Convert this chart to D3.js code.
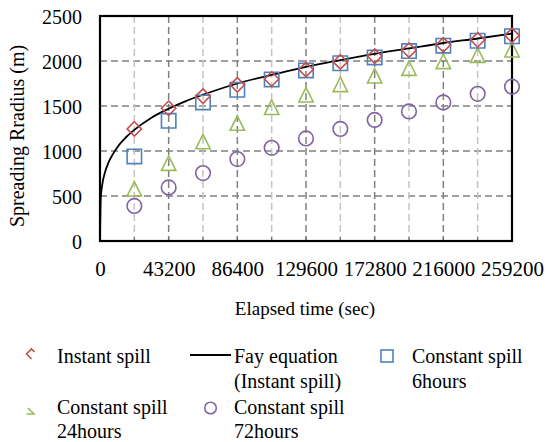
<!DOCTYPE html>
<html>
<head>
<meta charset="utf-8">
<script src="https://cdn.jsdelivr.net/npm/d3@7"></script>
<style>
  html, body { margin: 0; padding: 0; background: #fff; }
  svg, svg text { font-family: "Liberation Serif", "Times New Roman", serif; }
  svg { display: block; }
</style>
</head>
<body>
<svg id="chart" width="547" height="442"></svg>
<script>
// Sampling times (s) of the measured spreading radii
const timeSec = [21600, 43200, 64800, 86400, 108000, 129600, 151200, 172800, 194400, 216000, 237600, 259200];

// Spreading radius (m) for each spill scenario
const instantSpill = [1245, 1475, 1610, 1735, 1800, 1905, 1990, 2055, 2120, 2180, 2235, 2285];
const constant6h   = [940, 1335, 1540, 1680, 1795, 1895, 1975, 2040, 2110, 2170, 2225, 2275];
const constant24h  = [580, 865, 1105, 1310, 1485, 1625, 1740, 1835, 1920, 1995, 2065, 2125];
const constant72h  = [390, 595, 755, 910, 1035, 1140, 1245, 1345, 1440, 1540, 1635, 1715];

// Fay equation curve (instant spill)
const fayTime   = [0, 500, 1500, 3000, 5400, 8100, 10800, 16200, 21600, 32400, 43200, 54000, 64800, 86400, 108000, 129600, 151200, 172800, 194400, 216000, 237600, 259200];
const fayRadius = [0, 480, 635, 755, 875, 965, 1040, 1150, 1235, 1370, 1470, 1555, 1625, 1750, 1845, 1935, 2010, 2080, 2140, 2200, 2250, 2305];

// Axis ticks
const xTickLabels = [0, 43200, 86400, 129600, 172800, 216000, 259200];
const xMinorTicks = [21600, 64800, 108000, 151200, 194400, 237600];
const yTickLabels = [0, 500, 1000, 1500, 2000, 2500];

const colors = { instant: "#C0504D", c6: "#4F81BD", c24: "#9BBB59", c72: "#8064A2" };
const serif = "Liberation Serif, Times New Roman, serif";

const svg = d3.select("#chart");
const plot = { left: 100, right: 512, top: 16, bottom: 241 };

const x = d3.scaleLinear().domain([0, 259200]).range([plot.left, plot.right]);
const y = d3.scaleLinear().domain([0, 2500]).range([plot.bottom, plot.top]);

// Grid lines
const grid = svg.append("g");
grid.selectAll("line.hg").data(yTickLabels.filter(v => v > 0 && v < 2500)).join("line")
  .attr("x1", plot.left).attr("x2", plot.right)
  .attr("y1", d => y(d)).attr("y2", d => y(d))
  .attr("stroke", "#808080").attr("stroke-width", 1.5).attr("stroke-dasharray", "7,4");
grid.selectAll("line.vmin").data(xMinorTicks).join("line")
  .attr("x1", d => x(d)).attr("x2", d => x(d))
  .attr("y1", plot.top).attr("y2", plot.bottom)
  .attr("stroke", "#c4c4c4").attr("stroke-width", 1.5).attr("stroke-dasharray", "7,4");
grid.selectAll("line.vmaj").data(xTickLabels.filter(v => v > 0 && v < 259200)).join("line")
  .attr("x1", d => x(d)).attr("x2", d => x(d))
  .attr("y1", plot.top).attr("y2", plot.bottom)
  .attr("stroke", "#808080").attr("stroke-width", 1.5).attr("stroke-dasharray", "7,4");

// Bottom axis labels and inner ticks
const xAxis = d3.axisBottom(x).tickValues(xTickLabels).tickSize(0).tickPadding(0).tickFormat(d3.format("d"));
const gx = svg.append("g").attr("transform", `translate(0,${plot.bottom})`).call(xAxis)
  .attr("font-family", serif).attr("font-size", 21);
gx.select(".domain").remove();
gx.selectAll("text").attr("fill", "#000").attr("dy", 0).attr("y", 35);
svg.append("g").selectAll("line").data(xMinorTicks.concat(xTickLabels)).join("line")
  .attr("x1", d => x(d)).attr("x2", d => x(d))
  .attr("y1", plot.bottom).attr("y2", plot.bottom - 4)
  .attr("stroke", "#707070").attr("stroke-width", 1.2);

// Left axis labels
const yAxis = d3.axisLeft(y).tickValues(yTickLabels).tickSize(0).tickPadding(18).tickFormat(d3.format("d"));
const gy = svg.append("g").attr("transform", `translate(${plot.left},0)`).call(yAxis)
  .attr("font-family", serif).attr("font-size", 20);
gy.select(".domain").remove();
gy.selectAll("text").attr("fill", "#000").attr("dy", "0.35em");

// Plot frame
svg.append("rect")
  .attr("x", plot.left).attr("y", plot.top)
  .attr("width", plot.right - plot.left).attr("height", plot.bottom - plot.top)
  .attr("fill", "none").attr("stroke", "#000").attr("stroke-width", 2.2);

// Fay equation curve
const fayData = fayTime.map((t, i) => [t, fayRadius[i]]);
svg.append("path")
  .datum(fayData)
  .attr("fill", "none").attr("stroke", "#000").attr("stroke-width", 1.8)
  .attr("d", d3.line().x(d => x(d[0])).y(d => y(d[1])).curve(d3.curveMonotoneX));

// Marker shapes
function diamondPath(s) { return `M0,${-s}L${s},0L0,${s}L${-s},0Z`; }
function squarePath(s) { return `M${-s},${-s}H${s}V${s}H${-s}Z`; }
function trianglePath(s) { return `M0,${-s}L${s},${s}L${-s},${s}Z`; }

function drawMarkers(values, color, kind) {
  const g = svg.append("g");
  const pts = timeSec.map((t, i) => [t, values[i]]);
  if (kind === "circle") {
    g.selectAll("circle").data(pts).join("circle")
      .attr("cx", d => x(d[0])).attr("cy", d => y(d[1])).attr("r", 7.3)
      .attr("fill", "none").attr("stroke", color).attr("stroke-width", 1.6);
  } else {
    const p = kind === "square" ? squarePath(7.2) : kind === "diamond" ? diamondPath(7.2) : trianglePath(7.2);
    g.selectAll("path").data(pts).join("path")
      .attr("transform", d => `translate(${x(d[0])},${y(d[1])})`)
      .attr("d", p).attr("fill", "none").attr("stroke", color).attr("stroke-width", 1.6);
  }
}
drawMarkers(constant72h, colors.c72, "circle");
drawMarkers(constant24h, colors.c24, "triangle");
drawMarkers(constant6h, colors.c6, "square");
drawMarkers(instantSpill, colors.instant, "diamond");

// Axis titles
svg.append("text").attr("x", 305).attr("y", 315).attr("text-anchor", "middle")
  .attr("font-family", serif).attr("font-size", 19).text("Elapsed time (sec)");
svg.append("text").attr("transform", "translate(24,136) rotate(-90)").attr("text-anchor", "middle")
  .attr("font-family", serif).attr("font-size", 20).text("Spreading Rradius (m)");

// Legend
const leg = svg.append("g").attr("font-family", serif).attr("font-size", 20).attr("fill", "#000");
function legText(tx, ty, s) { leg.append("text").attr("x", tx).attr("y", ty).text(s); }

leg.append("path").attr("d", "M31.5,359L26.5,354L31.5,349L34.5,352")
  .attr("fill", "none").attr("stroke", colors.instant).attr("stroke-width", 1.6);
legText(57, 363, "Instant spill");

leg.append("line").attr("x1", 190).attr("x2", 231).attr("y1", 355).attr("y2", 355)
  .attr("stroke", "#000").attr("stroke-width", 1.8);
legText(234, 363, "Fay equation");
legText(234, 388, "(Instant spill)");

leg.append("rect").attr("x", 381).attr("y", 350).attr("width", 12).attr("height", 12)
  .attr("fill", "none").attr("stroke", colors.c6).attr("stroke-width", 1.6);
legText(412, 363, "Constant spill");
legText(412, 388, "6hours");

leg.append("path").attr("d", "M28,408L34,414L26.5,414")
  .attr("fill", "none").attr("stroke", colors.c24).attr("stroke-width", 1.6);
legText(57, 414, "Constant spill");
legText(57, 438, "24hours");

leg.append("circle").attr("cx", 210.5).attr("cy", 408).attr("r", 5.8)
  .attr("fill", "none").attr("stroke", colors.c72).attr("stroke-width", 1.6);
legText(234, 414, "Constant spill");
legText(234, 438, "72hours");
</script>
</body>
</html>
